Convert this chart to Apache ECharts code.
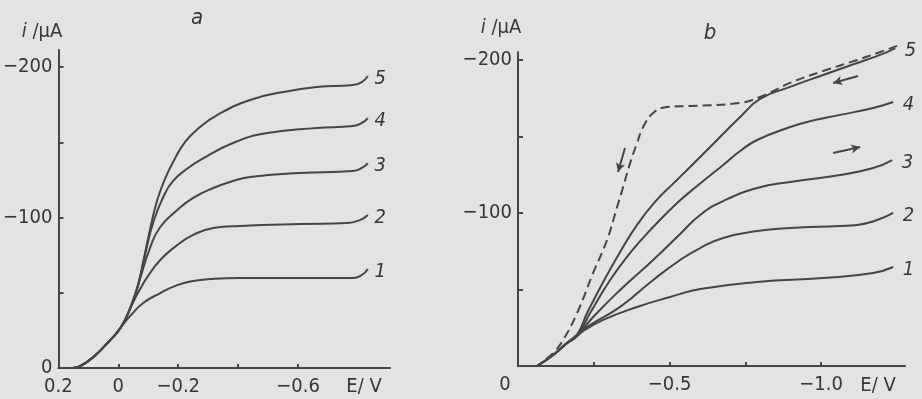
<!DOCTYPE html>
<html>
<head>
<meta charset="utf-8">
<title>i-E curves a, b</title>
<script src="https://cdn.jsdelivr.net/npm/echarts@6.0.0/dist/echarts.min.js"></script>
<style>
  html, body { margin: 0; padding: 0; background: #e3e3e5; }
  #chart { width: 922px; height: 399px; }
</style>
</head>
<body>
<div id="chart"></div>
<script>
// [E / V, i / uA]
// panel a
const aCurve1 = [[0.153,0],[0.127,-1.3],[0.083,-7.3],[0.027,-18.6],[0.003,-23.9],[-0.017,-29.2],[-0.04,-34.6],[-0.083,-43.2],[-0.14,-49.8],[-0.197,-55.1],[-0.25,-57.8],[-0.307,-59.1],[-0.407,-59.8],[-0.607,-59.8],[-0.783,-59.8],[-0.813,-61.8],[-0.833,-65.8]];
const aCurve2 = [[0.153,0],[0.127,-1.3],[0.083,-7.3],[0.027,-18.6],[0.003,-23.9],[-0.017,-29.9],[-0.033,-36.5],[-0.05,-43.9],[-0.073,-52.5],[-0.097,-60.5],[-0.14,-71.8],[-0.197,-81.7],[-0.25,-88.4],[-0.317,-93],[-0.407,-94.4],[-0.607,-95.7],[-0.763,-96.3],[-0.807,-98.3],[-0.833,-101.7]];
const aCurve3 = [[0.153,0],[0.127,-1.3],[0.083,-7.3],[0.027,-18.6],[0.003,-23.9],[-0.017,-29.9],[-0.033,-36.5],[-0.05,-45.2],[-0.067,-55.8],[-0.107,-80.4],[-0.14,-93.7],[-0.197,-105],[-0.25,-113],[-0.317,-119.6],[-0.373,-123.6],[-0.44,-126.9],[-0.607,-129.6],[-0.783,-130.9],[-0.813,-132.9],[-0.833,-136.2]];
const aCurve4 = [[0.153,0],[0.127,-1.3],[0.083,-7.3],[0.027,-18.6],[0.003,-23.9],[-0.017,-29.9],[-0.033,-36.5],[-0.05,-45.2],[-0.067,-55.8],[-0.093,-78.4],[-0.117,-97],[-0.15,-113.6],[-0.183,-124.3],[-0.233,-132.9],[-0.273,-138.2],[-0.383,-149.5],[-0.497,-156.1],[-0.663,-159.5],[-0.783,-160.8],[-0.813,-162.8],[-0.833,-166.1]];
const aCurve5 = [[0.153,0],[0.127,-1.3],[0.083,-7.3],[0.027,-18.6],[0.003,-23.9],[-0.017,-29.9],[-0.033,-36.5],[-0.05,-45.2],[-0.067,-55.8],[-0.083,-70.4],[-0.107,-93],[-0.13,-111.6],[-0.157,-126.2],[-0.183,-136.9],[-0.223,-150.2],[-0.273,-160.1],[-0.33,-168.1],[-0.44,-178.1],[-0.55,-183.4],[-0.663,-186.7],[-0.783,-188],[-0.813,-190],[-0.833,-194]];

// panel b
const bCurve1 = [[-0.063,0],[-0.116,-7.2],[-0.162,-15],[-0.205,-21.6],[-0.281,-30.1],[-0.393,-38.6],[-0.502,-45.1],[-0.601,-50.3],[-0.789,-54.9],[-1.007,-57.5],[-1.172,-60.8],[-1.238,-64.7]];
const bCurve2 = [[-0.063,0],[-0.116,-7.2],[-0.162,-15],[-0.195,-19.6],[-0.228,-25.5],[-0.337,-38.6],[-0.446,-56.2],[-0.535,-69.3],[-0.601,-77.1],[-0.677,-83.7],[-0.789,-88.2],[-0.898,-90.2],[-1.063,-91.5],[-1.119,-92.2],[-1.185,-95.4],[-1.238,-100]];
const bCurve3 = [[-0.063,0],[-0.116,-7.2],[-0.162,-15],[-0.195,-19.6],[-0.248,-32],[-0.337,-49.7],[-0.446,-69.3],[-0.535,-86.3],[-0.601,-98.7],[-0.677,-107.8],[-0.789,-116.3],[-0.898,-120.3],[-1.063,-124.8],[-1.172,-129.4],[-1.235,-134.6]];
const bCurve4 = [[-0.063,0],[-0.116,-7.2],[-0.162,-15],[-0.195,-19.6],[-0.238,-34.6],[-0.304,-56.2],[-0.37,-73.9],[-0.446,-90.8],[-0.525,-106.5],[-0.591,-117.6],[-0.677,-131.4],[-0.733,-140.5],[-0.789,-147.7],[-0.898,-156.2],[-0.954,-159.5],[-1.063,-164.1],[-1.172,-168.6],[-1.238,-172.5]];
const bCurve5 = [[-0.063,0],[-0.116,-7.2],[-0.162,-15],[-0.195,-20.5],[-0.228,-34.6],[-0.281,-54.9],[-0.337,-74.5],[-0.393,-92.2],[-0.452,-107.2],[-0.518,-120.3],[-0.568,-130.1],[-0.644,-145.1],[-0.733,-162.7],[-0.799,-174.5],[-0.898,-182.4],[-1.007,-190.2],[-1.119,-198],[-1.195,-203.3],[-1.245,-207.8]];
// reverse sweep (dashed)
const bReverse = [[-1.251,-209.2],[-1.195,-205.2],[-1.119,-200],[-1.007,-192.8],[-0.898,-185],[-0.799,-175.8],[-0.733,-171.9],[-0.568,-169.9],[-0.492,-169.3],[-0.446,-165.4],[-0.413,-156.2],[-0.393,-145.8],[-0.37,-132.7],[-0.347,-117],[-0.327,-103.9],[-0.294,-82.4],[-0.248,-60.8],[-0.195,-34.6],[-0.149,-17],[-0.116,-8.5],[-0.063,0]];
// sweep direction arrows: [from, to]
const bArrows = [
  [[-1.122,-189.5],[-1.04,-184.9]],
  [[-1.04,-139.2],[-1.129,-143.1]],
  [[-0.353,-142.5],[-0.33,-126.8]]
];

const curveNames = ['1', '2', '3', '4', '5'];
const aXTicks = [0, -0.2, -0.4, -0.6];
const aXLabels = [0.2, 0, -0.2, -0.6];
const aYTicks = [-200, -150, -100, -50];
const aYLabels = [-200, -100, 0];
const bXTicks = [-0.25, -0.5, -0.75, -1.0];
const bXLabels = [0, -0.5, -1.0];
const bYTicks = [-200, -150, -100, -50];
const bYLabels = [-200, -100];

const ink = '#454545';
const txt = '#363636';
const font = 'DejaVu Sans Condensed';

function fmtE(v){
  if (v === 0) return '0';
  return (v < 0 ? '\u2212' : '') + Math.abs(v).toFixed(1);
}
function fmtI(v){
  if (v === 0) return '0';
  return '\u2212' + Math.abs(v);
}

function xAx(idx, min, max, ticks, labels, fmt){
  return {
    type: 'value', gridIndex: idx, inverse: true, min: min, max: max,
    axisLine: { show: true, onZero: false, lineStyle: { color: ink, width: 2 } },
    axisTick: { show: true, inside: true, length: 4, customValues: ticks, lineStyle: { color: ink, width: 2 } },
    axisLabel: { show: true, customValues: labels, margin: 9, color: txt, fontSize: 20, fontFamily: font,
      formatter: fmt,
      rich: { z: { fontSize: 20, fontFamily: font, color: txt, padding: [0, 26, 0, 0] } } },
    splitLine: { show: false }
  };
}
function yAx(idx, min, ticks, labels){
  return {
    type: 'value', gridIndex: idx, inverse: true, min: min, max: 0,
    axisLine: { show: true, onZero: false, lineStyle: { color: ink, width: 2 } },
    axisTick: { show: true, inside: true, length: 5, customValues: ticks, lineStyle: { color: ink, width: 2 } },
    axisLabel: { show: true, customValues: labels, margin: 6, color: txt, fontSize: 20, fontFamily: font, formatter: fmtI },
    splitLine: { show: false }
  };
}

// x axes run right-to-left in value, so the end label lands on the left; push it over
function curve(name, data, xi, shift){
  return {
    name: name, type: 'line', xAxisIndex: xi, yAxisIndex: xi, data: data,
    smooth: 0.5, showSymbol: false, clip: false, silent: true,
    lineStyle: { color: ink, width: 2 },
    endLabel: { show: true, formatter: p => p.seriesName, color: txt, fontSize: 20,
      fontFamily: font, fontStyle: 'italic', distance: 0, offset: [shift, 3] }
  };
}

const myChart = echarts.init(document.getElementById('chart'), null, { renderer: 'canvas' });

const aSets = [aCurve1, aCurve2, aCurve3, aCurve4, aCurve5];
const bSets = [bCurve1, bCurve2, bCurve3, bCurve4, bCurve5];

const series = [];
aSets.forEach((d, k) => series.push(curve(curveNames[k], d, 0, 18)));
bSets.forEach((d, k) => series.push(curve(curveNames[k], d, 1, 21)));
series.push({
  name: 'reverse', type: 'line', xAxisIndex: 1, yAxisIndex: 1, data: bReverse,
  smooth: 0.4, showSymbol: false, clip: false, silent: true,
  lineStyle: { color: ink, width: 2, type: [9, 5] },
  markLine: {
    silent: true, symbol: ['none', 'arrow'], symbolSize: [7, 9],
    label: { show: false },
    lineStyle: { color: ink, width: 2, type: 'solid' },
    data: bArrows.map(a => [{ coord: a[0] }, { coord: a[1] }])
  }
});

const options = {
  backgroundColor: '#e3e3e5',
  animation: false,
  grid: [
    { left: 58, right: 532, top: 50, bottom: 31 },
    { left: 518, right: 17, top: 52, bottom: 33 }
  ],
  xAxis: [
    xAx(0, -0.907, 0.2, aXTicks, aXLabels, fmtE),
    xAx(1, -1.277, 0, bXTicks, bXLabels, v => v === 0 ? '{z|0}' : fmtE(v))
  ],
  yAxis: [
    yAx(0, -211.3, aYTicks, aYLabels),
    yAx(1, -205.2, bYTicks, bYLabels)
  ],
  graphic: [
    { type: 'text', x: 42, y: 32, style: { text: '{i|i} /µA', fill: txt, font: '20px "' + font + '"', align: 'center', verticalAlign: 'middle',
      rich: { i: { fontStyle: 'italic', fontSize: 20, fontFamily: font, fill: txt } } } },
    { type: 'text', x: 501, y: 28, style: { text: '{i|i} /µA', fill: txt, font: '20px "' + font + '"', align: 'center', verticalAlign: 'middle',
      rich: { i: { fontStyle: 'italic', fontSize: 20, fontFamily: font, fill: txt } } } },
    { type: 'text', x: 197, y: 18, style: { text: 'a', fill: txt, font: 'italic 22px "' + font + '"', align: 'center', verticalAlign: 'middle' } },
    { type: 'text', x: 710, y: 33, style: { text: 'b', fill: txt, font: 'italic 22px "' + font + '"', align: 'center', verticalAlign: 'middle' } },
    { type: 'text', x: 364, y: 387, style: { text: 'E/ V', fill: txt, font: '20px "' + font + '"', align: 'center', verticalAlign: 'middle' } },
    { type: 'text', x: 878, y: 386, style: { text: 'E/ V', fill: txt, font: '20px "' + font + '"', align: 'center', verticalAlign: 'middle' } }
  ],
  series: series
};
myChart.setOption(options, true);
</script>
</body>
</html>
